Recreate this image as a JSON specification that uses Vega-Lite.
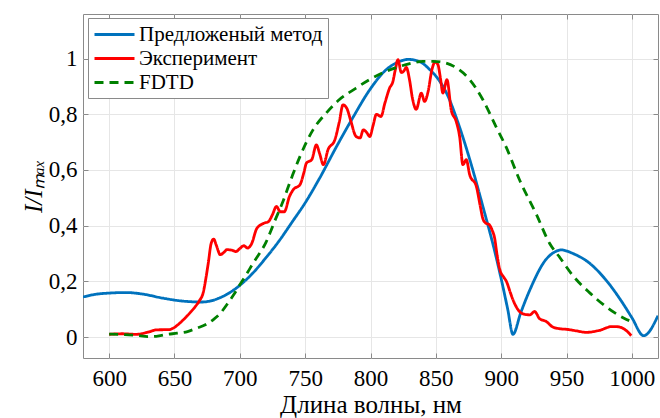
{
  "$schema": "https://vega.github.io/schema/vega-lite/v6.json",
  "width": 575,
  "height": 344,
  "autosize": {"type": "none"},
  "padding": {"left": 83, "top": 14, "right": 2, "bottom": 60},
  "background": "white",
  "config": {
    "font": "Liberation Serif",
    "view": {"stroke": "#8a8a8a", "strokeWidth": 1},
    "axis": {"domain": false, "tickColor": "#8a8a8a", "tickSize": -5, "gridColor": "#e6e6e6", "labelFont": "Liberation Serif", "titleFont": "Liberation Serif", "labelColor": "black", "titleColor": "black", "titleFontWeight": "normal"},
    "legend": {"labelFont": "Liberation Serif"}
  },
  "datasets": {
    "curves": [
      {"series": "Предложеный метод", "wl": 580, "v": 0.144},
      {"series": "Предложеный метод", "wl": 590, "v": 0.154},
      {"series": "Предложеный метод", "wl": 600, "v": 0.158},
      {"series": "Предложеный метод", "wl": 613, "v": 0.160},
      {"series": "Предложеный метод", "wl": 625, "v": 0.155},
      {"series": "Предложеный метод", "wl": 641, "v": 0.140},
      {"series": "Предложеный метод", "wl": 655, "v": 0.130},
      {"series": "Предложеный метод", "wl": 671, "v": 0.126},
      {"series": "Предложеный метод", "wl": 687, "v": 0.146},
      {"series": "Предложеный метод", "wl": 700, "v": 0.186},
      {"series": "Предложеный метод", "wl": 710, "v": 0.230},
      {"series": "Предложеный метод", "wl": 720, "v": 0.285},
      {"series": "Предложеный метод", "wl": 730, "v": 0.345},
      {"series": "Предложеный метод", "wl": 740, "v": 0.413},
      {"series": "Предложеный метод", "wl": 750, "v": 0.482},
      {"series": "Предложеный метод", "wl": 761, "v": 0.570},
      {"series": "Предложеный метод", "wl": 774, "v": 0.684},
      {"series": "Предложеный метод", "wl": 787, "v": 0.792},
      {"series": "Предложеный метод", "wl": 799, "v": 0.885},
      {"series": "Предложеный метод", "wl": 812, "v": 0.960},
      {"series": "Предложеный метод", "wl": 820, "v": 0.985},
      {"series": "Предложеный метод", "wl": 829, "v": 0.997},
      {"series": "Предложеный метод", "wl": 838, "v": 0.988},
      {"series": "Предложеный метод", "wl": 845, "v": 0.962},
      {"series": "Предложеный метод", "wl": 852, "v": 0.925},
      {"series": "Предложеный метод", "wl": 858, "v": 0.878},
      {"series": "Предложеный метод", "wl": 868, "v": 0.756},
      {"series": "Предложеный метод", "wl": 876, "v": 0.637},
      {"series": "Предложеный метод", "wl": 886, "v": 0.469},
      {"series": "Предложеный метод", "wl": 896, "v": 0.290},
      {"series": "Предложеный метод", "wl": 901, "v": 0.188},
      {"series": "Предложеный метод", "wl": 905, "v": 0.100},
      {"series": "Предложеный метод", "wl": 909, "v": 0.010},
      {"series": "Предложеный метод", "wl": 915, "v": 0.088},
      {"series": "Предложеный метод", "wl": 922, "v": 0.170},
      {"series": "Предложеный метод", "wl": 934, "v": 0.277},
      {"series": "Предложеный метод", "wl": 940, "v": 0.303},
      {"series": "Предложеный метод", "wl": 946, "v": 0.313},
      {"series": "Предложеный метод", "wl": 955, "v": 0.300},
      {"series": "Предложеный метод", "wl": 968, "v": 0.264},
      {"series": "Предложеный метод", "wl": 980, "v": 0.206},
      {"series": "Предложеный метод", "wl": 993, "v": 0.122},
      {"series": "Предложеный метод", "wl": 1000, "v": 0.070},
      {"series": "Предложеный метод", "wl": 1009, "v": 0.005},
      {"series": "Предложеный метод", "wl": 1020, "v": 0.077},

      {"series": "Эксперимент", "wl": 600, "v": 0.010},
      {"series": "Эксперимент", "wl": 610, "v": 0.012},
      {"series": "Эксперимент", "wl": 621, "v": 0.010},
      {"series": "Эксперимент", "wl": 630, "v": 0.018},
      {"series": "Эксперимент", "wl": 636, "v": 0.026},
      {"series": "Эксперимент", "wl": 646, "v": 0.027},
      {"series": "Эксперимент", "wl": 650, "v": 0.035},
      {"series": "Эксперимент", "wl": 654, "v": 0.050},
      {"series": "Эксперимент", "wl": 658, "v": 0.068},
      {"series": "Эксперимент", "wl": 662, "v": 0.088},
      {"series": "Эксперимент", "wl": 666, "v": 0.110},
      {"series": "Эксперимент", "wl": 669, "v": 0.130},
      {"series": "Эксперимент", "wl": 672, "v": 0.160},
      {"series": "Эксперимент", "wl": 674, "v": 0.210},
      {"series": "Эксперимент", "wl": 676, "v": 0.270},
      {"series": "Эксперимент", "wl": 678, "v": 0.335},
      {"series": "Эксперимент", "wl": 680, "v": 0.352},
      {"series": "Эксперимент", "wl": 682, "v": 0.330},
      {"series": "Эксперимент", "wl": 685, "v": 0.296},
      {"series": "Эксперимент", "wl": 688, "v": 0.305},
      {"series": "Эксперимент", "wl": 690, "v": 0.314},
      {"series": "Эксперимент", "wl": 694, "v": 0.312},
      {"series": "Эксперимент", "wl": 697, "v": 0.307},
      {"series": "Эксперимент", "wl": 700, "v": 0.318},
      {"series": "Эксперимент", "wl": 703, "v": 0.328},
      {"series": "Эксперимент", "wl": 706, "v": 0.320},
      {"series": "Эксперимент", "wl": 709, "v": 0.335},
      {"series": "Эксперимент", "wl": 713, "v": 0.390},
      {"series": "Эксперимент", "wl": 718, "v": 0.408},
      {"series": "Эксперимент", "wl": 722, "v": 0.415},
      {"series": "Эксперимент", "wl": 725, "v": 0.440},
      {"series": "Эксперимент", "wl": 728, "v": 0.469},
      {"series": "Эксперимент", "wl": 731, "v": 0.450},
      {"series": "Эксперимент", "wl": 734, "v": 0.450},
      {"series": "Эксперимент", "wl": 738, "v": 0.505},
      {"series": "Эксперимент", "wl": 741, "v": 0.530},
      {"series": "Эксперимент", "wl": 746, "v": 0.547},
      {"series": "Эксперимент", "wl": 749, "v": 0.590},
      {"series": "Эксперимент", "wl": 751, "v": 0.625},
      {"series": "Эксперимент", "wl": 755, "v": 0.637},
      {"series": "Эксперимент", "wl": 758.6, "v": 0.690},
      {"series": "Эксперимент", "wl": 761, "v": 0.660},
      {"series": "Эксперимент", "wl": 764, "v": 0.619},
      {"series": "Эксперимент", "wl": 767.5, "v": 0.673},
      {"series": "Эксперимент", "wl": 772.7, "v": 0.708},
      {"series": "Эксперимент", "wl": 776, "v": 0.770},
      {"series": "Эксперимент", "wl": 779, "v": 0.834},
      {"series": "Эксперимент", "wl": 782, "v": 0.820},
      {"series": "Эксперимент", "wl": 785, "v": 0.775},
      {"series": "Эксперимент", "wl": 789, "v": 0.720},
      {"series": "Эксперимент", "wl": 792, "v": 0.715},
      {"series": "Эксперимент", "wl": 794.5, "v": 0.744},
      {"series": "Эксперимент", "wl": 797, "v": 0.735},
      {"series": "Эксперимент", "wl": 799.4, "v": 0.720},
      {"series": "Эксперимент", "wl": 802, "v": 0.760},
      {"series": "Эксперимент", "wl": 804.5, "v": 0.800},
      {"series": "Эксперимент", "wl": 808, "v": 0.792},
      {"series": "Эксперимент", "wl": 811, "v": 0.840},
      {"series": "Эксперимент", "wl": 814.7, "v": 0.895},
      {"series": "Эксперимент", "wl": 817, "v": 0.915},
      {"series": "Эксперимент", "wl": 819, "v": 0.960},
      {"series": "Эксперимент", "wl": 821, "v": 0.996},
      {"series": "Эксперимент", "wl": 823.6, "v": 0.950},
      {"series": "Эксперимент", "wl": 825.5, "v": 0.955},
      {"series": "Эксперимент", "wl": 827.4, "v": 0.968},
      {"series": "Эксперимент", "wl": 830, "v": 0.920},
      {"series": "Эксперимент", "wl": 832, "v": 0.860},
      {"series": "Эксперимент", "wl": 835, "v": 0.818},
      {"series": "Эксперимент", "wl": 838.9, "v": 0.876},
      {"series": "Эксперимент", "wl": 841.4, "v": 0.846},
      {"series": "Эксперимент", "wl": 844, "v": 0.880},
      {"series": "Эксперимент", "wl": 847, "v": 0.960},
      {"series": "Эксперимент", "wl": 849.5, "v": 0.988},
      {"series": "Эксперимент", "wl": 851.6, "v": 0.978},
      {"series": "Эксперимент", "wl": 853.5, "v": 0.930},
      {"series": "Эксперимент", "wl": 855.4, "v": 0.876},
      {"series": "Эксперимент", "wl": 858.5, "v": 0.924},
      {"series": "Эксперимент", "wl": 861.8, "v": 0.815},
      {"series": "Эксперимент", "wl": 865.6, "v": 0.774},
      {"series": "Эксперимент", "wl": 868.2, "v": 0.720},
      {"series": "Эксперимент", "wl": 870.7, "v": 0.619},
      {"series": "Эксперимент", "wl": 873.3, "v": 0.637},
      {"series": "Эксперимент", "wl": 875.9, "v": 0.583},
      {"series": "Эксперимент", "wl": 881, "v": 0.541},
      {"series": "Эксперимент", "wl": 884, "v": 0.470},
      {"series": "Эксперимент", "wl": 886, "v": 0.425},
      {"series": "Эксперимент", "wl": 888, "v": 0.410},
      {"series": "Эксперимент", "wl": 891, "v": 0.403},
      {"series": "Эксперимент", "wl": 893, "v": 0.385},
      {"series": "Эксперимент", "wl": 895, "v": 0.355},
      {"series": "Эксперимент", "wl": 897, "v": 0.290},
      {"series": "Эксперимент", "wl": 899, "v": 0.242},
      {"series": "Эксперимент", "wl": 902, "v": 0.215},
      {"series": "Эксперимент", "wl": 904, "v": 0.200},
      {"series": "Эксперимент", "wl": 907, "v": 0.160},
      {"series": "Эксперимент", "wl": 909, "v": 0.134},
      {"series": "Эксперимент", "wl": 912, "v": 0.105},
      {"series": "Эксперимент", "wl": 914, "v": 0.092},
      {"series": "Эксперимент", "wl": 918, "v": 0.082},
      {"series": "Эксперимент", "wl": 922, "v": 0.080},
      {"series": "Эксперимент", "wl": 925.6, "v": 0.092},
      {"series": "Эксперимент", "wl": 929.4, "v": 0.066},
      {"series": "Эксперимент", "wl": 934.5, "v": 0.056},
      {"series": "Эксперимент", "wl": 939.6, "v": 0.036},
      {"series": "Эксперимент", "wl": 945, "v": 0.030},
      {"series": "Эксперимент", "wl": 950, "v": 0.028},
      {"series": "Эксперимент", "wl": 958, "v": 0.022},
      {"series": "Эксперимент", "wl": 965, "v": 0.017},
      {"series": "Эксперимент", "wl": 975, "v": 0.024},
      {"series": "Эксперимент", "wl": 985, "v": 0.038},
      {"series": "Эксперимент", "wl": 990, "v": 0.037},
      {"series": "Эксперимент", "wl": 993, "v": 0.032},
      {"series": "Эксперимент", "wl": 997, "v": 0.018},
      {"series": "Эксперимент", "wl": 999.5, "v": 0.005},

      {"series": "FDTD", "wl": 600, "v": 0.011},
      {"series": "FDTD", "wl": 612, "v": 0.009},
      {"series": "FDTD", "wl": 621, "v": 0.006},
      {"series": "FDTD", "wl": 630, "v": 0.002},
      {"series": "FDTD", "wl": 636, "v": 0.003},
      {"series": "FDTD", "wl": 645, "v": 0.010},
      {"series": "FDTD", "wl": 652, "v": 0.014},
      {"series": "FDTD", "wl": 660, "v": 0.020},
      {"series": "FDTD", "wl": 667, "v": 0.032},
      {"series": "FDTD", "wl": 674, "v": 0.045},
      {"series": "FDTD", "wl": 680, "v": 0.064},
      {"series": "FDTD", "wl": 685, "v": 0.085},
      {"series": "FDTD", "wl": 690, "v": 0.116},
      {"series": "FDTD", "wl": 695, "v": 0.150},
      {"series": "FDTD", "wl": 700, "v": 0.188},
      {"series": "FDTD", "wl": 705, "v": 0.225},
      {"series": "FDTD", "wl": 710, "v": 0.264},
      {"series": "FDTD", "wl": 715, "v": 0.300},
      {"series": "FDTD", "wl": 720, "v": 0.340},
      {"series": "FDTD", "wl": 723, "v": 0.373},
      {"series": "FDTD", "wl": 727, "v": 0.420},
      {"series": "FDTD", "wl": 732, "v": 0.475},
      {"series": "FDTD", "wl": 740, "v": 0.577},
      {"series": "FDTD", "wl": 746, "v": 0.648},
      {"series": "FDTD", "wl": 756, "v": 0.744},
      {"series": "FDTD", "wl": 766, "v": 0.804},
      {"series": "FDTD", "wl": 776, "v": 0.852},
      {"series": "FDTD", "wl": 789, "v": 0.894},
      {"series": "FDTD", "wl": 799, "v": 0.924},
      {"series": "FDTD", "wl": 810, "v": 0.950},
      {"series": "FDTD", "wl": 820, "v": 0.968},
      {"series": "FDTD", "wl": 830, "v": 0.982},
      {"series": "FDTD", "wl": 840, "v": 0.990},
      {"series": "FDTD", "wl": 848, "v": 0.990},
      {"series": "FDTD", "wl": 856, "v": 0.986},
      {"series": "FDTD", "wl": 866, "v": 0.966},
      {"series": "FDTD", "wl": 876, "v": 0.924},
      {"series": "FDTD", "wl": 886, "v": 0.852},
      {"series": "FDTD", "wl": 896, "v": 0.756},
      {"series": "FDTD", "wl": 904, "v": 0.680},
      {"series": "FDTD", "wl": 914, "v": 0.565},
      {"series": "FDTD", "wl": 927, "v": 0.440},
      {"series": "FDTD", "wl": 937, "v": 0.337},
      {"series": "FDTD", "wl": 945, "v": 0.285},
      {"series": "FDTD", "wl": 955, "v": 0.220},
      {"series": "FDTD", "wl": 968, "v": 0.158},
      {"series": "FDTD", "wl": 980, "v": 0.110},
      {"series": "FDTD", "wl": 994, "v": 0.068},
      {"series": "FDTD", "wl": 1000, "v": 0.055}
    ]
  },
  "data": {"name": "curves"},
  "resolve": {"axis": {"x": "independent", "y": "independent"}},
  "layer": [
    {
      "mark": {"type": "line", "strokeWidth": 2.8, "interpolate": "monotone", "clip": true},
      "encoding": {
        "x": {"field": "wl", "type": "quantitative", "scale": {"domain": [580, 1020], "nice": false, "zero": false},
          "axis": {"orient": "bottom", "values": [600, 650, 700, 750, 800, 850, 900, 950, 1000], "format": "d", "labelFontSize": 23, "labelPadding": 14, "title": "Длина волны, нм", "titleFontSize": 25, "titlePadding": 2, "grid": true}},
        "y": {"field": "v", "type": "quantitative", "scale": {"domain": [-0.075, 1.16], "nice": false, "zero": false},
          "axis": {"orient": "left", "values": [0, 0.2, 0.4, 0.6, 0.8, 1], "labelExpr": "replace(format(datum.value, '.1~f'), '.', ',')", "labelFontSize": 23, "labelPadding": 11, "title": "I/Iₘₐₓ", "titleFontSize": 25, "titleFontStyle": "italic", "titlePadding": 2, "grid": true}},
        "color": {"field": "series", "type": "nominal", "scale": {"domain": ["Предложеный метод", "Эксперимент", "FDTD"], "range": ["#0072BD", "#FF0000", "#008000"]},
          "legend": {"orient": "none", "legendX": 5, "legendY": 4, "title": null, "labelFontSize": 21, "labelFont": "Liberation Serif", "labelColor": "black", "symbolType": "M-1,0H3", "symbolSize": 400, "symbolStrokeWidth": 2.8, "symbolFillColor": "transparent", "strokeColor": "#8a8a8a", "fillColor": "white", "padding": 5, "rowPadding": 2, "labelOffset": 23, "labelLimit": 400}},
        "strokeDash": {"field": "series", "type": "nominal", "scale": {"domain": ["Предложеный метод", "Эксперимент", "FDTD"], "range": [[1, 0], [1, 0], [9, 6]]}, "legend": null}
      }
    },
    {
      "mark": {"type": "line", "opacity": 0},
      "encoding": {
        "x": {"field": "wl", "type": "quantitative", "axis": {"orient": "top", "values": [600, 650, 700, 750, 800, 850, 900, 950, 1000], "labels": false, "title": null, "grid": false}},
        "y": {"field": "v", "type": "quantitative", "axis": {"orient": "right", "values": [0, 0.2, 0.4, 0.6, 0.8, 1], "labels": false, "title": null, "grid": false}},
        "detail": {"field": "series"}
      }
    }
  ]
}
